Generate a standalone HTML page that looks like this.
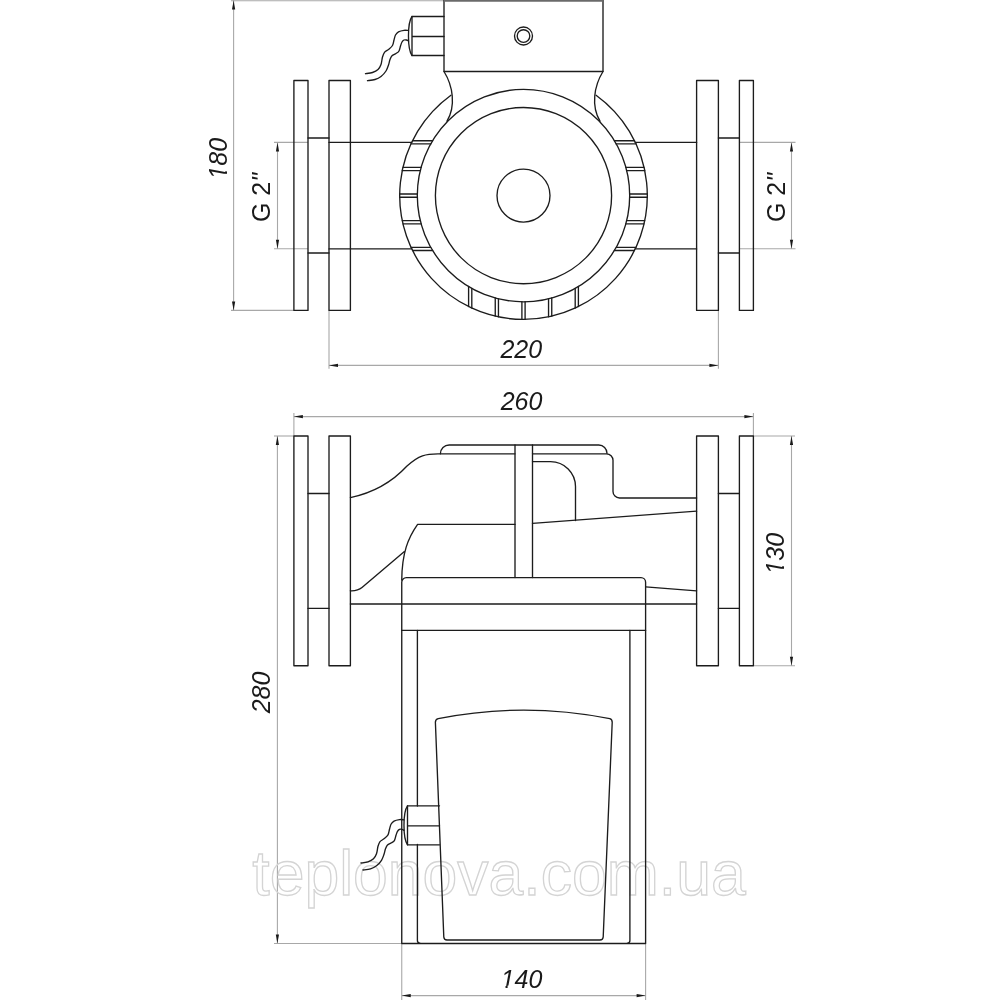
<!DOCTYPE html>
<html><head><meta charset="utf-8"><title>Pump drawing</title>
<style>html,body{margin:0;padding:0;background:#fff;width:1000px;height:1000px;overflow:hidden}
svg{display:block;will-change:transform;font-family:"Liberation Sans",sans-serif}</style></head>
<body>
<svg width="1000" height="1000" viewBox="0 0 1000 1000">
<rect width="1000" height="1000" fill="#fff"/>
<g fill="none" stroke="#a8a8a8" stroke-width="1.1"><line x1="233.6" y1="0" x2="233.6" y2="310.4"/><line x1="231" y1="0.75" x2="444" y2="0.75"/><line x1="231" y1="310.4" x2="293.9" y2="310.4"/><line x1="277.5" y1="142.4" x2="277.5" y2="248.8"/><line x1="274" y1="142.4" x2="308" y2="142.4"/><line x1="274" y1="248.8" x2="308" y2="248.8"/><line x1="791.5" y1="142.4" x2="791.5" y2="248.8"/><line x1="739.4" y1="142.4" x2="795.5" y2="142.4"/><line x1="739.4" y1="248.8" x2="795.5" y2="248.8"/><line x1="329" y1="365.4" x2="718.4" y2="365.4"/><line x1="329" y1="310.4" x2="329" y2="368.8"/><line x1="718.4" y1="310.4" x2="718.4" y2="368.8"/><line x1="293.9" y1="416.6" x2="753.4" y2="416.6"/><line x1="293.9" y1="413" x2="293.9" y2="436"/><line x1="753.4" y1="413" x2="753.4" y2="436"/><line x1="791.5" y1="436" x2="791.5" y2="665.7"/><line x1="753.4" y1="436" x2="795" y2="436"/><line x1="753.4" y1="665.7" x2="795" y2="665.7"/><line x1="277.4" y1="436" x2="277.4" y2="943.5"/><line x1="274" y1="436" x2="293.9" y2="436"/><line x1="274" y1="943.5" x2="401.75" y2="943.5"/><line x1="401.75" y1="995.6" x2="645.6" y2="995.6"/><line x1="401.75" y1="943.5" x2="401.75" y2="1000"/><line x1="645.6" y1="943.5" x2="645.6" y2="1000"/></g>
<text x="499" y="894.5" text-anchor="middle" font-size="62.5" fill="none" stroke="#d4d4d4" stroke-width="1.3">teplonova.com.ua</text>
<g fill="none" stroke="#1c1c1c" stroke-width="1.35" stroke-linecap="round" stroke-linejoin="round"><path d="M444,0 V71.5 H603 V0"/><circle cx="523.5" cy="36" r="9"/><circle cx="523.5" cy="36" r="6.3"/><path d="M412,16.5 H444 M412,36.5 H444 M412,55.5 H444 M412,16.5 V55.5"/><path d="M412,16.5 C407.3,23 407.3,49 412,55.5"/><path d="M408.5,30.5 C407.75,30.47 405.67,30.08 404,30.3 C402.33,30.52 399.92,31.02 398.5,31.8 C397.08,32.58 396.25,33.63 395.5,35 C394.75,36.37 394.5,38.25 394,40 C393.5,41.75 393.42,43.92 392.5,45.5 C391.58,47.08 389.83,48.37 388.5,49.5 C387.17,50.63 385.5,51.05 384.5,52.3 C383.5,53.55 383.08,54.97 382.5,57 C381.92,59.03 381.75,62.42 381,64.5 C380.25,66.58 379.42,68.17 378,69.5 C376.58,70.83 374.58,71.8 372.5,72.5 C370.42,73.2 366.67,73.5 365.5,73.7"/><path d="M408.5,41 C408.17,40.83 407.25,40.17 406.5,40 C405.75,39.83 404.75,39.67 404,40 C403.25,40.33 402.58,41 402,42 C401.42,43 401,44.5 400.5,46 C400,47.5 399.75,49.75 399,51 C398.25,52.25 397.17,52.72 396,53.5 C394.83,54.28 393,54.7 392,55.7 C391,56.7 390.58,57.95 390,59.5 C389.42,61.05 389.17,63.08 388.5,65 C387.83,66.92 387.25,69.08 386,71 C384.75,72.92 382.83,75.08 381,76.5 C379.17,77.92 377.25,78.8 375,79.5 C372.75,80.2 368.75,80.5 367.5,80.7"/><path d="M444,71.5 C453,86 456,106 447,121.2"/><path d="M603,71.5 C594,86 591,106 600,121.2"/><path d="M450.93,95.3 A123.8,123.8 0 1,0 596.07,95.3"/><circle cx="523.5" cy="195.6" r="106.2"/><circle cx="523.5" cy="195.6" r="88.1"/><circle cx="523.5" cy="195.6" r="26.5"/><line x1="412.54" y1="140.7" x2="432.59" y2="140.7"/><line x1="614.41" y1="140.7" x2="634.46" y2="140.7"/><line x1="411.01" y1="143.9" x2="430.73" y2="143.9"/><line x1="616.27" y1="143.9" x2="635.99" y2="143.9"/><line x1="402.97" y1="167.35" x2="421.13" y2="167.35"/><line x1="625.87" y1="167.35" x2="644.03" y2="167.35"/><line x1="402.26" y1="170.55" x2="420.3" y2="170.55"/><line x1="626.7" y1="170.55" x2="644.74" y2="170.55"/><line x1="399.71" y1="194" x2="417.31" y2="194"/><line x1="629.69" y1="194" x2="647.29" y2="194"/><line x1="399.71" y1="197.2" x2="417.31" y2="197.2"/><line x1="629.69" y1="197.2" x2="647.29" y2="197.2"/><line x1="402.26" y1="220.65" x2="420.3" y2="220.65"/><line x1="626.7" y1="220.65" x2="644.74" y2="220.65"/><line x1="402.97" y1="223.85" x2="421.13" y2="223.85"/><line x1="625.87" y1="223.85" x2="644.03" y2="223.85"/><line x1="411.01" y1="247.3" x2="430.73" y2="247.3"/><line x1="616.27" y1="247.3" x2="635.99" y2="247.3"/><line x1="412.54" y1="250.5" x2="432.59" y2="250.5"/><line x1="614.41" y1="250.5" x2="634.46" y2="250.5"/><line x1="468.6" y1="286.51" x2="468.6" y2="306.56"/><line x1="471.8" y1="288.37" x2="471.8" y2="308.09"/><line x1="495.25" y1="297.97" x2="495.25" y2="316.13"/><line x1="498.45" y1="298.8" x2="498.45" y2="316.84"/><line x1="521.9" y1="301.79" x2="521.9" y2="319.39"/><line x1="525.1" y1="301.79" x2="525.1" y2="319.39"/><line x1="548.55" y1="298.8" x2="548.55" y2="316.84"/><line x1="551.75" y1="297.97" x2="551.75" y2="316.13"/><line x1="575.2" y1="288.37" x2="575.2" y2="308.09"/><line x1="578.4" y1="286.51" x2="578.4" y2="306.56"/><line x1="329" y1="142.4" x2="411.71" y2="142.4"/><line x1="635.29" y1="142.4" x2="696.6" y2="142.4"/><line x1="329" y1="248.9" x2="411.76" y2="248.9"/><line x1="635.24" y1="248.9" x2="696.6" y2="248.9"/><rect x="293.9" y="80.5" width="14.1" height="229.9"/><rect x="329" y="80.5" width="21.4" height="229.9"/><rect x="696.6" y="80.5" width="21.8" height="229.9"/><rect x="739.4" y="80.5" width="14" height="229.9"/><line x1="308" y1="138" x2="329" y2="138"/><line x1="718.4" y1="138" x2="739.4" y2="138"/><line x1="308" y1="253" x2="329" y2="253"/><line x1="718.4" y1="253" x2="739.4" y2="253"/><rect x="293.9" y="436" width="14.1" height="229.7"/><rect x="329" y="436" width="21.4" height="229.7"/><rect x="696.6" y="436" width="21.8" height="229.7"/><rect x="739.4" y="436" width="14" height="229.7"/><line x1="308" y1="493.5" x2="329" y2="493.5"/><line x1="718.4" y1="493.5" x2="739.4" y2="493.5"/><line x1="308" y1="608.4" x2="329" y2="608.4"/><line x1="718.4" y1="608.4" x2="739.4" y2="608.4"/><path d="M350.4,497.6 C377,492 394,480 407,466 C419,455 426,453.8 438,453.8 H515"/><path d="M532.5,453.8 H606.5 A6.5,6.5 0 0,1 613,460.3 V491.5 A6.5,6.5 0 0,0 619.5,498 H696.6"/><path d="M440.4,453.8 A8.8,8.8 0 0,1 449.2,445 H598.8 A8.2,8.2 0 0,1 607,453.2"/><path d="M515,445 V577.6 M532.5,445 V577.6"/><path d="M532.5,461.6 H550.5 A25,25 0 0,1 575.5,486.6 V520.6"/><line x1="532.5" y1="523.4" x2="696.6" y2="511.2"/><path d="M515,524.4 H417.6 C408,538 402,553 401.75,580"/><path d="M350.4,590.8 C355,591 358.5,590.5 362,587.6 L404.4,551.6"/><line x1="350.4" y1="604" x2="696.6" y2="604"/><path d="M401.75,943.5 V582.2 A4.6,4.6 0 0,1 406.35,577.6 H641 A4.6,4.6 0 0,1 645.6,582.2 V943.5 Z"/><line x1="401.75" y1="630.4" x2="645.6" y2="630.4"/><line x1="645.6" y1="586.8" x2="696.6" y2="590.8"/><path d="M417.4,630.4 V806 M417.4,844.5 V940.5 A2.8,2.8 0 0,0 420.2,943.3 M627.1,943.3 A2.8,2.8 0 0,0 629.9,940.5 V630.4"/><path d="M438.2,718.6 Q523.5,701.6 609.8,718.6 Q612.3,719.4 612.2,722.5 L603.2,937 Q603,940 600,940 H447 Q444,940 443.8,937 L435.4,722.5 Q435.3,719.4 438.2,718.6 Z"/><path d="M407.5,805.8 H439.5 M407.5,825.8 H439.5 M407.5,844.8 H439.5 M407.5,805.8 V844.8"/><path d="M407.5,805.8 C402.8,812.3 402.8,838.3 407.5,844.8"/><path d="M404,819.8 C403.25,819.77 401.17,819.38 399.5,819.6 C397.83,819.82 395.42,820.32 394,821.1 C392.58,821.88 391.75,822.93 391,824.3 C390.25,825.67 390,827.55 389.5,829.3 C389,831.05 388.92,833.22 388,834.8 C387.08,836.38 385.33,837.67 384,838.8 C382.67,839.93 381,840.35 380,841.6 C379,842.85 378.58,844.27 378,846.3 C377.42,848.33 377.25,851.72 376.5,853.8 C375.75,855.88 374.92,857.47 373.5,858.8 C372.08,860.13 370.08,861.1 368,861.8 C365.92,862.5 362.17,862.8 361,863"/><path d="M404,830.3 C403.67,830.13 402.75,829.47 402,829.3 C401.25,829.13 400.25,828.97 399.5,829.3 C398.75,829.63 398.08,830.3 397.5,831.3 C396.92,832.3 396.5,833.8 396,835.3 C395.5,836.8 395.25,839.05 394.5,840.3 C393.75,841.55 392.67,842.02 391.5,842.8 C390.33,843.58 388.5,844 387.5,845 C386.5,846 386.08,847.25 385.5,848.8 C384.92,850.35 384.67,852.38 384,854.3 C383.33,856.22 382.75,858.38 381.5,860.3 C380.25,862.22 378.33,864.38 376.5,865.8 C374.67,867.22 372.75,868.1 370.5,868.8 C368.25,869.5 364.25,869.8 363,870"/></g>
<line x1="444" y1="0.9" x2="603" y2="0.9" stroke="#6a6a6a" stroke-width="1.8"/>
<g fill="#1a1a1a" stroke="none"><polygon points="233.6,0.5 232,9.5 235.2,9.5"/><polygon points="233.6,310.4 232,301.4 235.2,301.4"/><polygon points="277.5,142.4 275.9,151.4 279.1,151.4"/><polygon points="277.5,248.8 275.9,239.8 279.1,239.8"/><polygon points="791.5,142.4 789.9,151.4 793.1,151.4"/><polygon points="791.5,248.8 789.9,239.8 793.1,239.8"/><polygon points="329,365.4 338,363.8 338,367"/><polygon points="718.4,365.4 709.4,363.8 709.4,367"/><polygon points="293.9,416.6 302.9,415 302.9,418.2"/><polygon points="753.4,416.6 744.4,415 744.4,418.2"/><polygon points="791.5,436 789.9,445 793.1,445"/><polygon points="791.5,665.7 789.9,656.7 793.1,656.7"/><polygon points="277.4,436 275.8,445 279,445"/><polygon points="277.4,943.5 275.8,934.5 279,934.5"/><polygon points="401.75,995.6 410.75,994 410.75,997.2"/><polygon points="645.6,995.6 636.6,994 636.6,997.2"/></g>
<g fill="#1a1a1a" text-anchor="middle" dominant-baseline="central"><text x="218.2" y="158.7" font-style="italic" font-size="25" transform="rotate(-90 218.2 158.7)">180</text><text x="261.4" y="197.5" font-style="normal" font-size="25" transform="rotate(-90 261.4 197.5)">G 2<tspan font-style="italic">&#34;</tspan></text><text x="775.5" y="197.5" font-style="normal" font-size="25" transform="rotate(-90 775.5 197.5)">G 2<tspan font-style="italic">&#34;</tspan></text><text x="521.3" y="349.4" font-style="italic" font-size="25">220</text><text x="521.5" y="400.6" font-style="italic" font-size="25">260</text><text x="775.4" y="553.7" font-style="italic" font-size="25" transform="rotate(-90 775.4 553.7)">130</text><text x="261.3" y="692.5" font-style="italic" font-size="25" transform="rotate(-90 261.3 692.5)">280</text><text x="521.5" y="979.3" font-style="italic" font-size="25">140</text></g>
<g fill="#fff" stroke="none"><rect x="500.5" y="985.6" width="5" height="2.8"/><rect x="507.6" y="985.6" width="5.4" height="2.8"/><rect x="224.4" y="166.9" width="3.2" height="4.5"/><rect x="224.4" y="173.8" width="3.4" height="6"/><rect x="781.4" y="561.9" width="3.2" height="4.4"/><rect x="781.4" y="568.8" width="3.4" height="6"/></g>
</svg>
</body></html>
